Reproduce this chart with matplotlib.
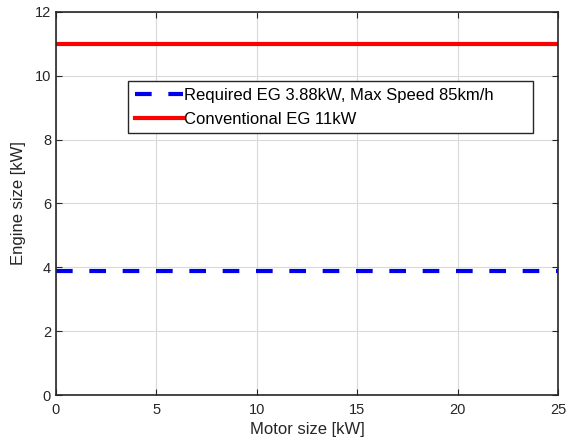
import matplotlib
matplotlib.use('Agg')
import matplotlib.pyplot as plt

motor_size = [0, 25]
required_eg = [3.88, 3.88]
conventional_eg = [11, 11]
labels = ['Required EG 3.88kW, Max Speed 85km/h', 'Conventional EG 11kW']

plt.rcParams['font.family'] = ['Liberation Sans', 'DejaVu Sans']
plt.rcParams['font.size'] = 10.5

fig = plt.figure(figsize=(5.73, 4.40), dpi=100)
ax = fig.add_axes([0.0977, 0.102, 0.876, 0.871])

ax.plot(motor_size, required_eg, color='#0000ee', linewidth=3, linestyle=(0, (4, 4)), label=labels[0])
ax.plot(motor_size, conventional_eg, color='#ff0000', linewidth=3, label=labels[1])

ax.set_xlim(0, 25)
ax.set_ylim(0, 12)
ax.set_xticks(range(0, 26, 5))
ax.set_yticks(range(0, 13, 2))
ax.grid(True, color='#d9d9d9', linewidth=0.8)
ax.set_axisbelow(True)
ax.tick_params(direction='in', top=True, right=True, length=4, color='#262626', labelcolor='#262626')
ax.tick_params(axis='x', pad=6)
for s in ax.spines.values():
    s.set_color('#262626')
    s.set_linewidth(1.2)

ax.set_xlabel('Motor size [kW]', fontsize=12, color='#262626', labelpad=3)
ax.set_ylabel('Engine size [kW]', fontsize=12, color='#262626', labelpad=6)

leg = ax.legend(loc='upper left', bbox_to_anchor=(0.1434, 0.5, 0.807, 0.32), mode='expand',
                fontsize=12, fancybox=False, framealpha=1, edgecolor='#262626', handlelength=2.9,
                handletextpad=0.05, borderpad=0.4, labelspacing=0.55, borderaxespad=0)
leg.get_frame().set_linewidth(1.0)

fig.savefig('out.png', dpi=100)
